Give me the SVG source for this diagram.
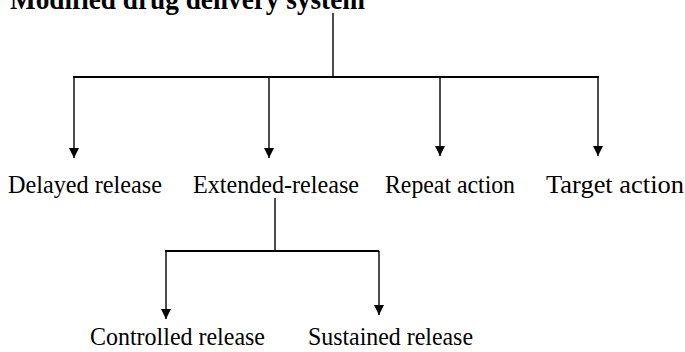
<svg xmlns="http://www.w3.org/2000/svg" width="685" height="352" viewBox="0 0 685 352">
<style>
.t{font-family:"Liberation Serif","Times New Roman",serif;font-size:26px;fill:#000}
.title{font-family:"Liberation Serif","Times New Roman",serif;font-size:30px;font-weight:bold;fill:#000}
.ln{stroke:#000;stroke-width:1.4;fill:none}
.bar{stroke:#000;stroke-width:2.2;fill:none}
</style>
<defs>
<marker id="dn" markerUnits="userSpaceOnUse" markerWidth="10" markerHeight="12" viewBox="0 0 10 12" refX="5" refY="11" orient="0">
<path d="M0,1 L10,1 L5,11 Z" fill="#000"/>
</marker>
</defs>
<g id="title"><text class="title" x="10" y="9" textLength="355" lengthAdjust="spacingAndGlyphs">Modified drug delivery system</text></g>
<g id="connectors">
<line class="ln" x1="333" y1="13" x2="333" y2="76"/>
<line class="bar" x1="73" y1="77" x2="599" y2="77"/>
<line class="ln" x1="74" y1="77" x2="74" y2="158" marker-end="url(#dn)"/>
<line class="ln" x1="269" y1="77" x2="269" y2="158" marker-end="url(#dn)"/>
<line class="ln" x1="440" y1="77" x2="440" y2="156" marker-end="url(#dn)"/>
<line class="ln" x1="598" y1="77" x2="598" y2="156" marker-end="url(#dn)"/>
<line class="ln" x1="275" y1="198" x2="275" y2="251"/>
<line class="bar" x1="165" y1="251" x2="379" y2="251"/>
<line class="ln" x1="166" y1="251" x2="166" y2="319" marker-end="url(#dn)"/>
<line class="ln" x1="379" y1="251" x2="379" y2="315" marker-end="url(#dn)"/>
</g>
<g id="delayed"><text class="t" x="8" y="193" textLength="154" lengthAdjust="spacingAndGlyphs">Delayed release</text></g>
<g id="extended"><text class="t" x="193" y="193" textLength="166" lengthAdjust="spacingAndGlyphs">Extended-release</text></g>
<g id="repeat"><text class="t" x="385" y="193" textLength="130" lengthAdjust="spacingAndGlyphs">Repeat action</text></g>
<g id="target"><text class="t" x="546" y="193" textLength="138" lengthAdjust="spacingAndGlyphs">Target action</text></g>
<g id="controlled"><text class="t" x="90" y="345" textLength="175" lengthAdjust="spacingAndGlyphs">Controlled release</text></g>
<g id="sustained"><text class="t" x="308" y="345" textLength="165" lengthAdjust="spacingAndGlyphs">Sustained release</text></g>
</svg>
